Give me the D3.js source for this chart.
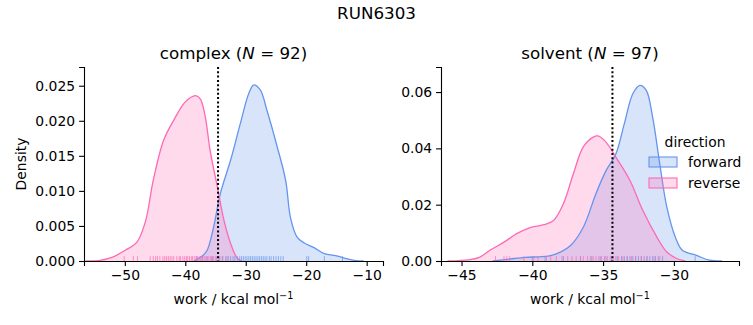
<!DOCTYPE html>
<html>
<head>
<meta charset="utf-8">
<script src="https://cdn.jsdelivr.net/npm/d3@7"></script>
<style>
  body { margin: 0; background: #fff; }
  svg { font-family: "DejaVu Sans", sans-serif; }
</style>
</head>
<body>
<div id="chart"></div>
<script>
// KDE curves as [work, density] pairs
const complexForward = [
  [-38.6, 0], [-38.1, 0.0002], [-37.2, 0.0007], [-36.4, 0.0015], [-35.3, 0.0049], [-34.2, 0.0096],
  [-32.5, 0.0144], [-30.9, 0.0196], [-29.5, 0.0239], [-28.7, 0.0251], [-27.6, 0.0244],
  [-26.5, 0.0215], [-24.8, 0.0163], [-23.4, 0.0115], [-22.6, 0.0062], [-21.5, 0.0034],
  [-20.4, 0.0026], [-18.7, 0.0019], [-17.1, 0.0011], [-14.8, 0.0007], [-13.2, 0.0003],
  [-11.5, 0.00003], [-10.5, 0]
];
const complexReverse = [
  [-56.5, 0], [-54.1, 0.0001], [-51.9, 0.0006], [-50.0, 0.0015], [-48.0, 0.0027],
  [-46.6, 0.0056], [-45.3, 0.0115], [-43.6, 0.0172], [-41.9, 0.0201], [-40.0, 0.0227],
  [-38.3, 0.0236], [-37.5, 0.0231], [-36.7, 0.0206], [-35.9, 0.0158], [-34.7, 0.0106],
  [-33.6, 0.0058], [-32.5, 0.0025], [-31.4, 0.0004], [-30.6, 0]
];
const solventForward = [
  [-42.8, 0], [-41.6, 0.0007], [-40.5, 0.0013], [-39.5, 0.0015], [-38.8, 0.0018],
  [-38.3, 0.0025], [-37.3, 0.0055], [-36.4, 0.012], [-35.5, 0.024], [-34.8, 0.032],
  [-34.1, 0.038], [-33.5, 0.0488], [-32.9, 0.0594], [-32.4, 0.0624], [-31.95, 0.0606],
  [-31.5, 0.0511], [-31.0, 0.0346], [-30.5, 0.0192], [-29.9, 0.0085], [-29.4, 0.0038],
  [-28.4, 0.002], [-27.5, 0.0003], [-26.6, 0]
];
const solventReverse = [
  [-46.0, 0], [-44.4, 0.0005], [-43.7, 0.0014], [-43.0, 0.0038], [-42.0, 0.0067],
  [-41.1, 0.0097], [-40.2, 0.0118], [-39.2, 0.0129], [-38.5, 0.0144], [-37.8, 0.0204],
  [-37.1, 0.031], [-36.4, 0.0405], [-35.7, 0.044], [-35.35, 0.0444], [-34.8, 0.0422],
  [-34.1, 0.0369], [-33.1, 0.0286], [-32.2, 0.018], [-31.2, 0.0085], [-30.5, 0.0032],
  [-29.8, 0.0009], [-29.2, 0]
];

// individual work values for the rug
const complexForwardRug = [-38.1, -37.2, -36.4, -35.6, -34.9, -34.3, -33.8, -33.3, -32.9, -32.5,
  -32.1, -31.8, -31.4, -31.0, -30.7, -30.4, -30.1, -29.8, -29.5, -29.2, -28.9, -28.6, -28.3,
  -28.0, -27.7, -27.4, -27.1, -26.8, -26.5, -26.1, -25.8, -25.4, -25.0, -24.6, -24.2, -23.8,
  -19.9, -19.6, -17.0, -14.0];
const complexReverseRug = [-50.1, -48.6, -47.9, -45.8, -45.3, -44.9, -44.6, -44.2, -43.7, -43.4,
  -43.1, -42.8, -42.5, -42.2, -41.9, -41.4, -41.0, -40.8, -40.4, -40.1, -39.8, -39.6, -39.3,
  -39.0, -38.8, -38.5, -38.2, -38.0, -37.7, -37.5, -37.2, -36.9, -36.7, -36.4, -36.1, -35.8,
  -35.5, -35.3, -34.9, -34.4, -33.9, -33.1];
const solventForwardRug = [-40.0, -39.1, -37.8, -36.6, -35.8, -35.2, -34.8, -34.4, -34.0, -33.7,
  -33.5, -33.3, -33.1, -32.9, -32.7, -32.5, -32.3, -32.1, -31.9, -31.7, -31.5, -31.3, -31.1,
  -30.8, -28.5];
const solventReverseRug = [-42.6, -42.0, -41.8, -41.6, -40.6, -39.9, -39.6, -39.0, -38.7, -38.3,
  -37.9, -37.5, -37.2, -36.9, -36.6, -36.4, -36.1, -35.9, -35.7, -35.5, -35.3, -35.1, -34.9,
  -34.7, -34.5, -34.3, -34.1, -33.9, -33.6, -33.3, -33.0, -32.7, -32.3, -31.9, -31.4, -31.0];

const complexTicksX = [-50, -40, -30, -20, -10];
const complexTicksY = [0, 0.005, 0.010, 0.015, 0.020, 0.025];
const solventTicksX = [-45, -40, -35, -30];
const solventTicksY = [0, 0.02, 0.04, 0.06];

const complexMean = -34.58;
const solventMean = -34.34;

const directions = ['forward', 'reverse'];
const colors = {forward: '#6495ED', reverse: '#FF69B4'};

const width = 753, height = 325;
const tickFont = '13.9px';

const svg = d3.select('#chart').append('svg')
  .attr('width', width)
  .attr('height', height);

svg.append('text')
  .attr('x', width / 2).attr('y', 19)
  .attr('text-anchor', 'middle')
  .style('font-size', '16.7px')
  .text('RUN6303');

function drawPanel(opts) {
  const x = d3.scaleLinear().domain(opts.xDomain).range([opts.left, opts.right]);
  const y = d3.scaleLinear().domain(opts.yDomain).range([opts.bottom, opts.top]);
  const g = svg.append('g');

  // keep the smoothed curve from dipping under the baseline
  const yc = d => Math.min(y(d[1]), y(0));
  const area = d3.area()
    .x(d => x(d[0])).y0(y(0)).y1(yc)
    .curve(d3.curveCatmullRom.alpha(0.5));
  const line = d3.line()
    .x(d => x(d[0])).y(yc)
    .curve(d3.curveCatmullRom.alpha(0.5));

  directions.forEach(dir => {
    g.append('path')
      .datum(opts.curves[dir])
      .attr('d', area)
      .attr('fill', colors[dir])
      .attr('fill-opacity', 0.25);
  });
  directions.forEach(dir => {
    g.append('path')
      .datum(opts.curves[dir])
      .attr('d', line)
      .attr('fill', 'none')
      .attr('stroke', colors[dir])
      .attr('stroke-width', 1.3);
  });

  // rug
  const rugH = (opts.bottom - opts.top) * 0.025;
  directions.forEach(dir => {
    g.selectAll(null)
      .data(opts.rugs[dir])
      .enter().append('line')
      .attr('x1', d => x(d)).attr('x2', d => x(d))
      .attr('y1', opts.bottom).attr('y2', opts.bottom - rugH)
      .attr('stroke', colors[dir])
      .attr('stroke-opacity', 0.7)
      .attr('stroke-width', 1);
  });

  // mean line
  g.append('line')
    .attr('x1', x(opts.mean)).attr('x2', x(opts.mean))
    .attr('y1', opts.top).attr('y2', opts.bottom)
    .attr('stroke', '#000')
    .attr('stroke-width', 2)
    .attr('stroke-dasharray', '2,2.3');

  const xAxis = g.append('g')
    .attr('transform', `translate(0,${opts.bottom})`)
    .call(d3.axisBottom(x).tickValues(opts.xTicks).tickSizeOuter(0).tickSize(4.9).tickPadding(4)
      .tickFormat(d => d3.format('d')(d).replace('-', '\u2212')));
  const yAxis = g.append('g')
    .attr('transform', `translate(${opts.left},0)`)
    .call(d3.axisLeft(y).tickValues(opts.yTicks).tickSizeOuter(0).tickSize(4.9).tickPadding(4)
      .tickFormat(d3.format(opts.yFormat)));
  [xAxis, yAxis].forEach(a => {
    a.selectAll('text').style('font-size', tickFont).style('font-family', 'DejaVu Sans').attr('fill', '#000');
    a.selectAll('line').attr('stroke', '#000').attr('stroke-width', 1.1);
    a.select('.domain').attr('stroke', '#000').attr('stroke-width', 1.1);
  });

  // title
  const cx = (opts.left + opts.right) / 2;
  const title = g.append('text')
    .attr('x', cx).attr('y', opts.top - 8)
    .attr('text-anchor', 'middle')
    .style('font-size', '16.7px');
  title.append('tspan').text(opts.name + ' (');
  title.append('tspan').style('font-style', 'italic').text('N');
  title.append('tspan').text(' = ' + opts.n + ')');

  // x label
  const xl = g.append('text')
    .attr('x', cx).attr('y', 304)
    .attr('text-anchor', 'middle')
    .style('font-size', tickFont);
  xl.append('tspan').text('work / kcal mol');
  xl.append('tspan').attr('dy', -5).style('font-size', '9.7px').text('\u22121');

  return {x, y};
}

drawPanel({
  left: 84, right: 383, top: 67, bottom: 261,
  xDomain: [-56.75, -7.3], yDomain: [0, 0.02767],
  xTicks: complexTicksX, yTicks: complexTicksY, yFormat: '.3f',
  curves: {forward: complexForward, reverse: complexReverse},
  rugs: {forward: complexForwardRug, reverse: complexReverseRug},
  mean: complexMean, name: 'complex', n: 92
});

drawPanel({
  left: 441, right: 739, top: 67, bottom: 261,
  xDomain: [-46.45, -25.4], yDomain: [0, 0.0689],
  xTicks: solventTicksX, yTicks: solventTicksY, yFormat: '.2f',
  curves: {forward: solventForward, reverse: solventReverse},
  rugs: {forward: solventForwardRug, reverse: solventReverseRug},
  mean: solventMean, name: 'solvent', n: 97
});

// y label
svg.append('text')
  .attr('transform', 'translate(26,164) rotate(-90)')
  .attr('text-anchor', 'middle')
  .style('font-size', tickFont)
  .text('Density');

// legend
const legend = svg.append('g');
legend.append('text')
  .attr('x', 695).attr('y', 147)
  .attr('text-anchor', 'middle')
  .style('font-size', tickFont)
  .text('direction');
directions.forEach((dir, i) => {
  const yy = 157 + i * 21;
  legend.append('rect')
    .attr('x', 649).attr('y', yy)
    .attr('width', 28).attr('height', 10)
    .attr('fill', colors[dir]).attr('fill-opacity', 0.25)
    .attr('stroke', colors[dir]).attr('stroke-width', 1.1);
  legend.append('text')
    .attr('x', 688).attr('y', yy + 10)
    .style('font-size', tickFont)
    .text(dir);
});
</script>
</body>
</html>
